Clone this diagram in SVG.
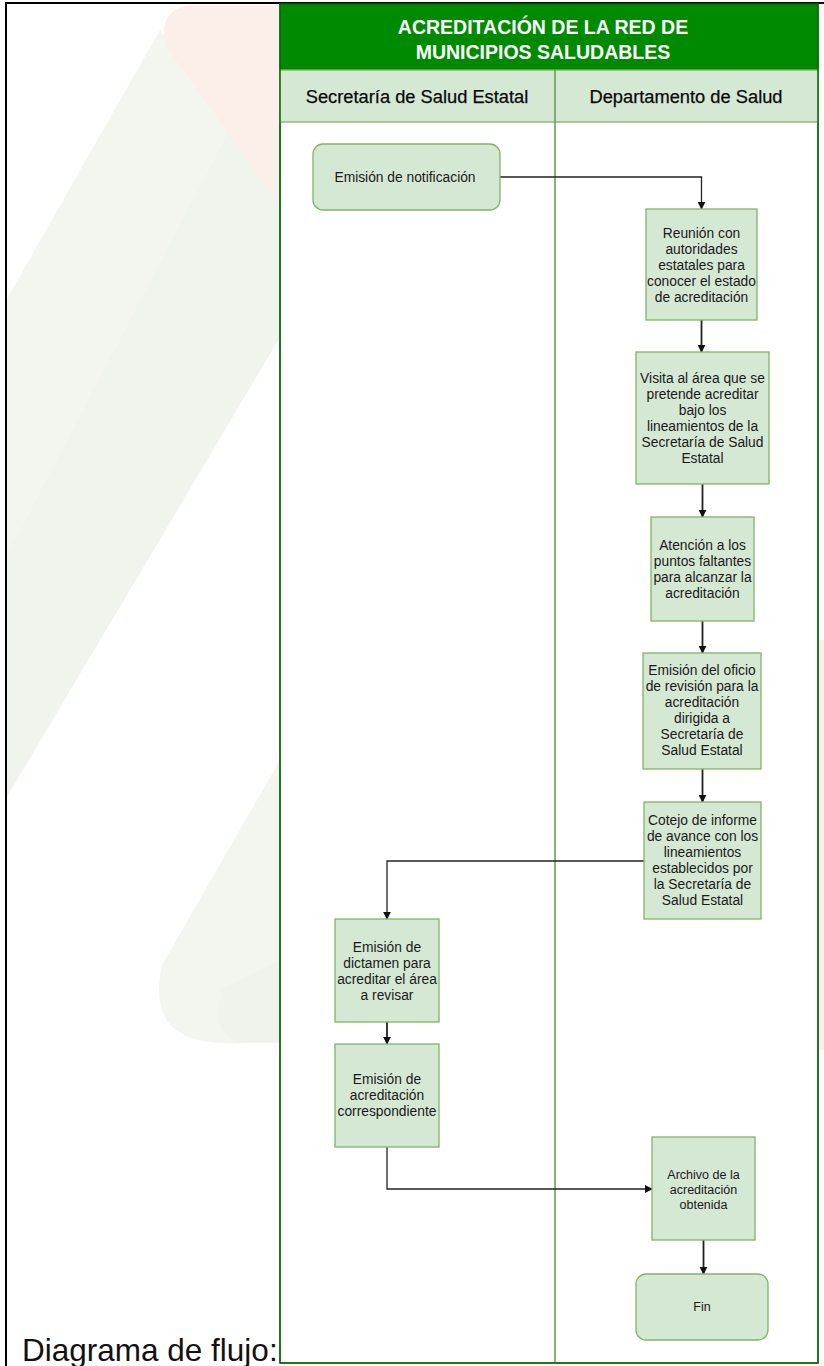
<svg xmlns="http://www.w3.org/2000/svg" width="824" height="1366" viewBox="0 0 824 1366">
<style>
.wm-g{fill:#f2f6ef}
.wm-g2{fill:#ecf2e9}
.wm-p{fill:#fcefe9}
.node{fill:#d5e8d4;stroke:#82b366;stroke-width:1.3}
.nt{font-family:"Liberation Sans",Arial,sans-serif;font-size:13.8px;fill:#1a1a1a;text-anchor:middle}
.nts{font-family:"Liberation Sans",Arial,sans-serif;font-size:12.5px;fill:#1a1a1a;text-anchor:middle}
.title{font-family:"Liberation Sans",Arial,sans-serif;font-size:19.5px;font-weight:bold;fill:#ffffff;text-anchor:middle}
.lane{font-family:"Liberation Sans",Arial,sans-serif;font-size:18.3px;fill:#0a0a0a;text-anchor:middle;stroke:#0a0a0a;stroke-width:0.25}
.edge{fill:none;stroke:#222;stroke-width:1.3}
.edgev{fill:none;stroke:#222;stroke-width:1.8}
</style>
<defs>
<marker id="arr" viewBox="0 0 10 10" refX="9" refY="5" markerWidth="8" markerHeight="8" markerUnits="userSpaceOnUse" orient="auto">
<path d="M0,0 L10,5 L0,10 Z" fill="#111"/>
</marker>
</defs>
<rect x="0" y="0" width="824" height="1366" fill="#ffffff"/>
<g id="watermark">
<path class="wm-g" d="M160,30 L280,200 L280,337 L5,800 L5,302 Z"/>
<path class="wm-g2" d="M230,130 L280,200 L280,337 L5,800 L5,560 Z" opacity="0.5"/>
<path class="wm-p" d="M165,45 Q158,8 192,5 L280,5 L280,205 Z"/>
<path class="wm-g" d="M280,760 L162,965 Q145,1043 225,1043 L280,1043 Z"/>
<path class="wm-g2" d="M280,960 L222,990 Q208,1043 250,1043 L280,1043 Z" opacity="0.6"/>
<rect class="wm-p" x="819" y="640" width="5" height="410"/>
</g>
<g id="frame">
<line x1="6" y1="3" x2="6" y2="1366" stroke="#000" stroke-width="2"/>
<line x1="5" y1="3" x2="824" y2="3" stroke="#000" stroke-width="2"/>
</g>
<g id="pool">
<rect x="280" y="4" width="538" height="1359" fill="#ffffff" stroke="#006600" stroke-width="1.3"/>
<rect x="280" y="4" width="538" height="66" fill="#008a00"/>
<rect x="280" y="70" width="538" height="52" fill="#d5e8d4" stroke="#82b366" stroke-width="1.3"/>
<line x1="555" y1="70" x2="555" y2="1363" stroke="#6a9f5a" stroke-width="1.6"/>
<rect x="280" y="4" width="538" height="1359" fill="none" stroke="#006600" stroke-width="1.3"/>
<text class="title" x="543" y="34">ACREDITACIÓN DE LA RED DE</text>
<text class="title" x="543" y="59">MUNICIPIOS SALUDABLES</text>
<text class="lane" x="417" y="103">Secretaría de Salud Estatal</text>
<text class="lane" x="686" y="103">Departamento de Salud</text>
</g>
<g id="connectors">
<path class="edge" d="M500,177 H701.5 V209" marker-end="url(#arr)"/>
<path class="edgev" d="M701.5,320 V352" marker-end="url(#arr)"/>
<path class="edgev" d="M702.5,484 V517" marker-end="url(#arr)"/>
<path class="edgev" d="M702.5,621 V653" marker-end="url(#arr)"/>
<path class="edgev" d="M702.5,769 V802" marker-end="url(#arr)"/>
<path class="edge" d="M644,861 H387 V919" marker-end="url(#arr)"/>
<path class="edgev" d="M387,1022 V1044" marker-end="url(#arr)"/>
<path class="edge" d="M387,1147 V1189 H652" marker-end="url(#arr)"/>
<path class="edgev" d="M703.5,1240 V1274" marker-end="url(#arr)"/>
</g>
<g id="n1">
<rect class="node" x="313" y="144" width="187" height="66" rx="10"/>
<text class="nt" x="405" y="182">Emisión de notificación</text>
</g>
<g id="n2">
<rect class="node" x="646" y="209" width="111" height="111"/>
<text class="nt" x="701.5" y="238">Reunión con</text>
<text class="nt" x="701.5" y="254">autoridades</text>
<text class="nt" x="701.5" y="270">estatales para</text>
<text class="nt" x="701.5" y="286">conocer el estado</text>
<text class="nt" x="701.5" y="302">de acreditación</text>
</g>
<g id="n3">
<rect class="node" x="636" y="352" width="133" height="132"/>
<text class="nt" x="702.5" y="383">Visita al área que se</text>
<text class="nt" x="702.5" y="399">pretende acreditar</text>
<text class="nt" x="702.5" y="415">bajo los</text>
<text class="nt" x="702.5" y="431">lineamientos de la</text>
<text class="nt" x="702.5" y="447">Secretaría de Salud</text>
<text class="nt" x="702.5" y="463">Estatal</text>
</g>
<g id="n4">
<rect class="node" x="651" y="517" width="103" height="104"/>
<text class="nt" x="702.5" y="550">Atención a los</text>
<text class="nt" x="702.5" y="566">puntos faltantes</text>
<text class="nt" x="702.5" y="582">para alcanzar la</text>
<text class="nt" x="702.5" y="598">acreditación</text>
</g>
<g id="n5">
<rect class="node" x="643" y="653" width="118" height="116"/>
<text class="nt" x="702" y="675">Emisión del oficio</text>
<text class="nt" x="702" y="691">de revisión para la</text>
<text class="nt" x="702" y="707">acreditación</text>
<text class="nt" x="702" y="723">dirigida a</text>
<text class="nt" x="702" y="739">Secretaría de</text>
<text class="nt" x="702" y="755">Salud Estatal</text>
</g>
<g id="n6">
<rect class="node" x="644" y="802" width="117" height="117"/>
<text class="nt" x="702.5" y="825">Cotejo de informe</text>
<text class="nt" x="702.5" y="841">de avance con los</text>
<text class="nt" x="702.5" y="857">lineamientos</text>
<text class="nt" x="702.5" y="873">establecidos por</text>
<text class="nt" x="702.5" y="889">la Secretaría de</text>
<text class="nt" x="702.5" y="905">Salud Estatal</text>
</g>
<g id="n7">
<rect class="node" x="335" y="919" width="104" height="103"/>
<text class="nt" x="387" y="952">Emisión de</text>
<text class="nt" x="387" y="968">dictamen para</text>
<text class="nt" x="387" y="984">acreditar el área</text>
<text class="nt" x="387" y="1000">a revisar</text>
</g>
<g id="n8">
<rect class="node" x="335" y="1044" width="104" height="103"/>
<text class="nt" x="387" y="1084">Emisión de</text>
<text class="nt" x="387" y="1100">acreditación</text>
<text class="nt" x="387" y="1116">correspondiente</text>
</g>
<g id="n9">
<rect class="node" x="652" y="1137" width="103" height="103"/>
<text class="nts" x="703.5" y="1179">Archivo de la</text>
<text class="nts" x="703.5" y="1194">acreditación</text>
<text class="nts" x="703.5" y="1209">obtenida</text>
</g>
<g id="n10">
<rect class="node" x="636" y="1274" width="132" height="66" rx="10"/>
<text class="nts" x="702" y="1311">Fin</text>
</g>
<text x="22" y="1361" font-family="'Liberation Sans',Arial,sans-serif" font-size="31.5" fill="#111">Diagrama de flujo:</text>
</svg>
